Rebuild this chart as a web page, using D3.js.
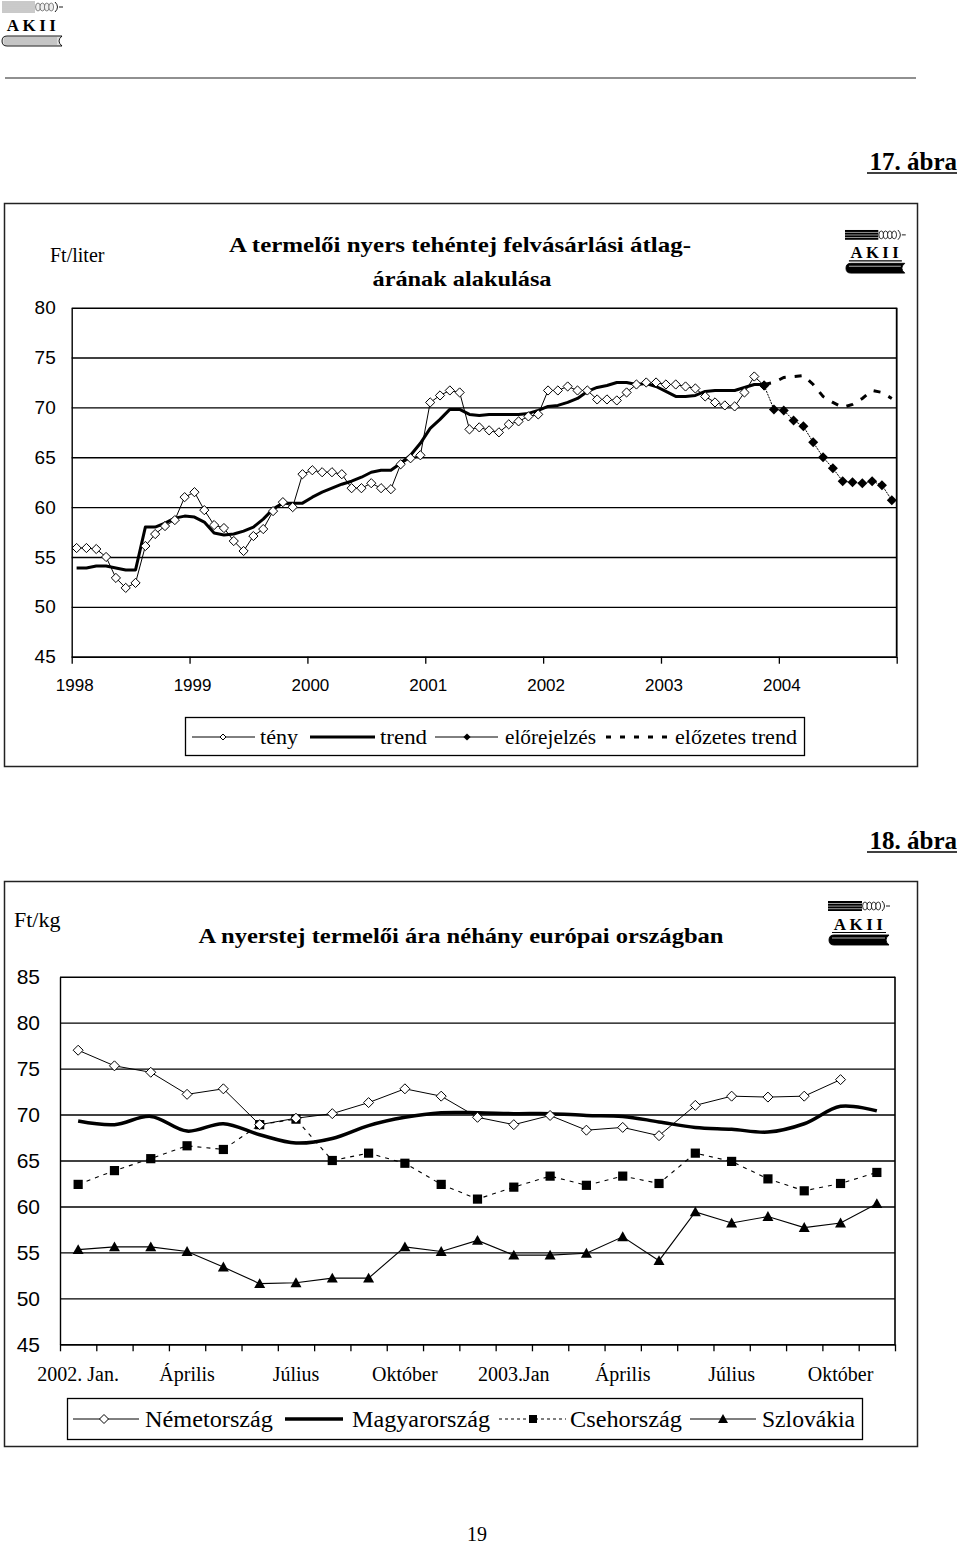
<!DOCTYPE html>
<html><head><meta charset="utf-8">
<script src="https://cdn.jsdelivr.net/npm/d3@7"></script>
<style>body{margin:0;background:#fff}</style>
</head><body>
<svg id="page" width="960" height="1544" xmlns="http://www.w3.org/2000/svg"></svg>
<script>
// ---------- Chart 1 data (monthly, Jan 1998 .. Dec 2004) ----------
const c1YTicks = [45, 50, 55, 60, 65, 70, 75, 80];
const c1YearLabels = ["1998", "1999", "2000", "2001", "2002", "2003", "2004"];
const c1MonthCount = 84;
const tenyValues = [55.9, 55.9, 55.8, 55.0, 52.9, 51.9, 52.4, 56.1, 57.3, 58.1, 58.7, 61.0,
  61.5, 59.7, 58.2, 57.9, 56.6, 55.6, 57.1, 57.8, 59.6, 60.5, 60.0, 63.3,
  63.7, 63.5, 63.5, 63.3, 61.9, 61.9, 62.4, 61.9, 61.8, 64.3, 64.9, 65.2,
  70.5, 71.2, 71.7, 71.5, 67.8, 68.0, 67.7, 67.5, 68.3, 68.6, 69.1, 69.3,
  71.7, 71.7, 72.1, 71.7, 71.7, 70.8, 70.8, 70.7, 71.5, 72.3, 72.5, 72.5,
  72.3, 72.3, 72.1, 71.9, 71.1, 70.5, 70.2, 70.1, 71.5, 73.1, 72.2];
const trendValues = [53.9, 53.9, 54.1, 54.1, 53.9, 53.7, 53.7, 58.0, 58.0, 58.4, 58.9, 59.1,
  59.0, 58.5, 57.4, 57.2, 57.3, 57.6, 58.0, 58.8, 59.8, 60.4, 60.4, 60.4,
  61.0, 61.5, 61.9, 62.3, 62.6, 63.0, 63.5, 63.7, 63.7, 64.4, 65.2, 66.4,
  67.9, 68.8, 69.8, 69.8, 69.3, 69.2, 69.3, 69.3, 69.3, 69.3, 69.4, 69.7,
  70.1, 70.2, 70.5, 70.9, 71.6, 72.0, 72.2, 72.5, 72.5, 72.3, 72.4, 72.1,
  71.6, 71.1, 71.1, 71.2, 71.6, 71.7, 71.7, 71.7, 72.0, 72.3, 72.3];
const forecastStart = 70;
const forecastValues = [72.2, 69.8, 69.7, 68.7, 68.1, 66.5, 65.0, 63.9, 62.6, 62.5, 62.4, 62.6, 62.2, 60.7];
const prelimTrendValues = [72.3, 72.5, 73.0, 73.1, 73.2, 72.3, 71.1, 70.5, 70.0, 70.3, 70.9, 71.7, 71.5, 70.9];

// ---------- Chart 2 data (monthly, Jan 2002 .. Nov 2003) ----------
const c2YTicks = [45, 50, 55, 60, 65, 70, 75, 80, 85];
const c2MonthLabels = ["2002. Jan.", "", "", "Április", "", "", "Július", "", "", "Október", "", "",
  "2003.Jan", "", "", "Április", "", "", "Július", "", "", "Október", ""];
const nemetValues = [77.0, 75.3, 74.6, 72.2, 72.8, 68.9, 69.6, 70.1, 71.3, 72.8, 72.0, 69.7,
  68.9, 69.9, 68.3, 68.6, 67.7, 71.0, 72.0, 71.9, 72.0, 73.8, null];
const magyarValues = [69.3, 68.9, 69.8, 68.2, 69.0, 67.8, 66.9, 67.4, 68.8, 69.7, 70.2, 70.2,
  70.1, 70.1, 69.9, 69.8, 69.2, 68.6, 68.4, 68.1, 69.0, 70.9, 70.4];
const csehValues = [62.4, 63.9, 65.2, 66.6, 66.2, 68.9, 69.5, 65.0, 65.8, 64.7, 62.4, 60.8,
  62.1, 63.3, 62.3, 63.3, 62.5, 65.8, 64.9, 63.0, 61.7, 62.5, 63.7];
const szlovakValues = [55.3, 55.6, 55.6, 55.1, 53.4, 51.6, 51.7, 52.2, 52.2, 55.6, 55.1, 56.3,
  54.7, 54.7, 54.9, 56.7, 54.1, 59.4, 58.2, 58.9, 57.7, 58.2, 60.3];

const SERIF = "'Liberation Serif','Times New Roman',serif";
const SANS = "'Liberation Sans',Arial,sans-serif";

const svg = d3.select("#page");
svg.append("rect").attr("width", 960).attr("height", 1544).attr("fill", "#fff");

// marker shapes
const diamondPath = r => `M0,${-r}L${r},0L0,${r}L${-r},0Z`;
const squarePath = r => `M${-r},${-r}H${r}V${r}H${-r}Z`;
const trianglePath = r => `M0,${-r}L${r},${r * 0.8}L${-r},${r * 0.8}Z`;

// ---------- logo ----------
function logo(g0, x, y, s, dark) {
  const g = g0.append("g").attr("transform", `translate(${x},${y}) scale(${s})`);
  const col = dark ? "#000" : "#888";
  if (dark) {
    g.append("rect").attr("x", 0).attr("y", 1).attr("width", 34).attr("height", 10).attr("fill", "#000");
    for (let k = 0; k < 3; k++) g.append("line").attr("x1", 0).attr("x2", 34).attr("y1", 3.5 + k * 2.6).attr("y2", 3.5 + k * 2.6).attr("stroke", "#fff").attr("stroke-width", 0.6);
  } else {
    for (let k = 0; k < 6; k++) g.append("line").attr("x1", 1).attr("x2", 34).attr("y1", 1 + k * 2).attr("y2", 1 + k * 2).attr("stroke", col).attr("stroke-width", 0.9);
  }
  for (let k = 0; k < 4; k++) g.append("ellipse").attr("cx", 37 + k * 4.4).attr("cy", 6).attr("rx", 2.4).attr("ry", 4)
    .attr("fill", dark ? "#fff" : "#eee").attr("stroke", dark ? "#000" : "#666").attr("stroke-width", 0.8);
  g.append("path").attr("d", "M54,1 Q59,6 54,11 M58,6 H62").attr("fill", "none").attr("stroke", "#000").attr("stroke-width", 0.9);
  g.append("text").attr("x", 32).attr("y", 30).attr("text-anchor", "middle").attr("font-family", SERIF)
    .attr("font-weight", "bold").attr("font-size", 17).attr("letter-spacing", 3.5).text("AKII");
  if (dark) g.append("line").attr("x1", 4).attr("x2", 58).attr("y1", 32.5).attr("y2", 32.5).attr("stroke", "#000").attr("stroke-width", 1.2);
  g.append("path").attr("d", "M6,35 H61 Q55,40 61,45 H6 Q1,45 1,40 Q1,35 6,35Z")
    .attr("fill", dark ? "#000" : "#ddd").attr("stroke", "#000").attr("stroke-width", 0.9);
  if (!dark) for (let k = 0; k < 4; k++) g.append("line").attr("x1", 3).attr("x2", 56).attr("y1", 37 + k * 2).attr("y2", 37 + k * 2).attr("stroke", "#999").attr("stroke-width", 0.7);
  else g.append("line").attr("x1", 4).attr("x2", 57).attr("y1", 38).attr("y2", 38).attr("stroke", "#fff").attr("stroke-width", 0.7);
}

// ---------- page header ----------
logo(svg, 1, 1, 1, false);
svg.append("line").attr("x1", 5).attr("x2", 916).attr("y1", 78).attr("y2", 78).attr("stroke", "#222").attr("stroke-width", 1.2);

function figLabel(txt, yBase) {
  svg.append("text").attr("x", 957).attr("y", yBase).attr("text-anchor", "end")
    .attr("font-family", SERIF).attr("font-weight", "bold").attr("font-size", 25).text(txt);
  svg.append("line").attr("x1", 867).attr("x2", 957).attr("y1", yBase + 3).attr("y2", yBase + 3).attr("stroke", "#000").attr("stroke-width", 1.6);
}
figLabel("17. ábra", 170);
figLabel("18. ábra", 849);
svg.append("text").attr("x", 477).attr("y", 1541).attr("text-anchor", "middle").attr("font-family", SERIF).attr("font-size", 20).text("19");

// ================= CHART 1 =================
{
  const g = svg.append("g");
  g.append("rect").attr("x", 4.5).attr("y", 203.5).attr("width", 913).attr("height", 563).attr("fill", "#fff").attr("stroke", "#222").attr("stroke-width", 1.5);
  const x = d3.scaleLinear().domain([0, c1MonthCount]).range([71.7, 896.7]);
  const y = d3.scaleLinear().domain([45, 80]).range([656.7, 307.7]);
  const W = x.range()[1] - x.range()[0];

  const ya = g.append("g").attr("transform", `translate(${x(0)},0)`)
    .call(d3.axisLeft(y).tickValues(c1YTicks).tickSize(-W).tickSizeOuter(0).tickPadding(16));
  ya.selectAll("line").attr("stroke", "#000").attr("stroke-width", 1.4);
  ya.select(".domain").attr("stroke", "#000").attr("stroke-width", 1.4);
  ya.selectAll("text").attr("font-family", SANS).attr("font-size", 19).attr("fill", "#000");
  g.append("line").attr("x1", x(c1MonthCount)).attr("x2", x(c1MonthCount)).attr("y1", y(80)).attr("y2", y(45)).attr("stroke", "#000").attr("stroke-width", 1.8);

  const xa = g.append("g").attr("transform", `translate(0,${y(45)})`)
    .call(d3.axisBottom(x).tickValues(d3.range(0, c1MonthCount + 1, 12)).tickSize(7).tickSizeOuter(0).tickFormat(""));
  xa.selectAll("line").attr("stroke", "#000").attr("stroke-width", 1.3);
  xa.select(".domain").attr("stroke", "#000").attr("stroke-width", 1.4);
  g.selectAll(".yearlab").data(c1YearLabels).enter().append("text")
    .attr("x", (d, i) => x(i * 12) + 3).attr("y", 691).attr("text-anchor", "middle")
    .attr("font-family", SANS).attr("font-size", 17).text(d => d);

  const line = (off) => d3.line().x((d, i) => x(off + i + 0.5)).y(d => y(d));
  // trend
  g.append("path").attr("d", line(0)(trendValues)).attr("fill", "none").attr("stroke", "#000").attr("stroke-width", 3).attr("stroke-linejoin", "round");
  // előzetes trend
  g.append("path").attr("d", line(forecastStart)(prelimTrendValues)).attr("fill", "none").attr("stroke", "#000").attr("stroke-width", 3).attr("stroke-dasharray", "7,9");
  // tény
  g.append("path").attr("d", line(0)(tenyValues)).attr("fill", "none").attr("stroke", "#000").attr("stroke-width", 1);
  g.selectAll(".teny").data(tenyValues).enter().append("path")
    .attr("transform", (d, i) => `translate(${x(i + 0.5)},${y(d)})`).attr("d", diamondPath(4.6))
    .attr("fill", "#fff").attr("stroke", "#000").attr("stroke-width", 1);
  // előrejelzés
  g.append("path").attr("d", line(forecastStart)(forecastValues)).attr("fill", "none").attr("stroke", "#000").attr("stroke-width", 1).attr("stroke-dasharray", "2,1");
  g.selectAll(".fc").data(forecastValues).enter().append("path")
    .attr("transform", (d, i) => `translate(${x(forecastStart + i + 0.5)},${y(d)})`).attr("d", diamondPath(5))
    .attr("fill", "#000");

  // texts
  g.append("text").attr("x", 50).attr("y", 262).attr("font-family", SERIF).attr("font-size", 20).text("Ft/liter");
  g.append("text").attr("x", 460).attr("y", 252).attr("text-anchor", "middle").attr("font-family", SERIF).attr("font-weight", "bold")
    .attr("font-size", 22).attr("textLength", 462).attr("lengthAdjust", "spacingAndGlyphs").text("A termelői nyers tehéntej felvásárlási átlag-");
  g.append("text").attr("x", 462).attr("y", 286).attr("text-anchor", "middle").attr("font-family", SERIF).attr("font-weight", "bold")
    .attr("font-size", 22).attr("textLength", 179).attr("lengthAdjust", "spacingAndGlyphs").text("árának alakulása");
  logo(g, 845, 229, 0.98, true);

  // legend
  const lg = g.append("g");
  lg.append("rect").attr("x", 185.5).attr("y", 717.5).attr("width", 619).attr("height", 38).attr("fill", "#fff").attr("stroke", "#000").attr("stroke-width", 1.3);
  const ly = 737;
  lg.append("line").attr("x1", 192).attr("x2", 255).attr("y1", ly).attr("y2", ly).attr("stroke", "#000").attr("stroke-width", 1);
  lg.append("path").attr("transform", `translate(223,${ly})`).attr("d", diamondPath(3)).attr("fill", "#fff").attr("stroke", "#000");
  lg.append("line").attr("x1", 310).attr("x2", 375).attr("y1", ly).attr("y2", ly).attr("stroke", "#000").attr("stroke-width", 3);
  lg.append("line").attr("x1", 435).attr("x2", 498).attr("y1", ly).attr("y2", ly).attr("stroke", "#000").attr("stroke-width", 1);
  lg.append("path").attr("transform", `translate(467,${ly})`).attr("d", diamondPath(3.6)).attr("fill", "#000");
  lg.append("line").attr("x1", 606).attr("x2", 672).attr("y1", ly).attr("y2", ly).attr("stroke", "#000").attr("stroke-width", 3).attr("stroke-dasharray", "5,9");
  const ltxt = [["tény", 260, 38], ["trend", 380, 47], ["előrejelzés", 505, 91], ["előzetes trend", 675, 122]];
  lg.selectAll(".lt").data(ltxt).enter().append("text").attr("x", d => d[1]).attr("y", ly + 7)
    .attr("font-family", SERIF).attr("font-size", 22).attr("textLength", d => d[2]).attr("lengthAdjust", "spacingAndGlyphs").text(d => d[0]);
}

// ================= CHART 2 =================
{
  const g = svg.append("g");
  g.append("rect").attr("x", 4.5).attr("y", 881.5).attr("width", 913).attr("height", 565).attr("fill", "#fff").attr("stroke", "#222").attr("stroke-width", 1.5);
  const n = c2MonthLabels.length;
  const x = d3.scaleLinear().domain([0, n]).range([60, 895]);
  const y = d3.scaleLinear().domain([45, 85]).range([1344.3, 976.7]);
  const W = x.range()[1] - x.range()[0];

  const ya = g.append("g").attr("transform", `translate(${x(0)},0)`)
    .call(d3.axisLeft(y).tickValues(c2YTicks).tickSize(-W).tickSizeOuter(0).tickPadding(20));
  ya.selectAll("line").attr("stroke", "#000").attr("stroke-width", 1.4);
  ya.select(".domain").attr("stroke", "#000").attr("stroke-width", 1.4);
  ya.selectAll("text").attr("font-family", SANS).attr("font-size", 21).attr("fill", "#000");
  g.append("line").attr("x1", x(n)).attr("x2", x(n)).attr("y1", y(85)).attr("y2", y(45)).attr("stroke", "#000").attr("stroke-width", 1.6);

  const xa = g.append("g").attr("transform", `translate(0,${y(45)})`)
    .call(d3.axisBottom(x).tickValues(d3.range(0, n + 1)).tickSize(7).tickSizeOuter(0).tickFormat(""));
  xa.selectAll("line").attr("stroke", "#000").attr("stroke-width", 1.3);
  xa.select(".domain").attr("stroke", "#000").attr("stroke-width", 1.4);
  g.selectAll(".mlab").data(c2MonthLabels.map((d, i) => [d, i]).filter(d => d[0] !== "")).enter().append("text")
    .attr("x", d => x(d[1] + 0.5)).attr("y", 1381).attr("text-anchor", "middle")
    .attr("font-family", SERIF).attr("font-size", 20).text(d => d[0]);

  const line = d3.line().defined(d => d != null).x((d, i) => x(i + 0.5)).y(d => y(d));
  const smooth = d3.line().x((d, i) => x(i + 0.5)).y(d => y(d)).curve(d3.curveCatmullRom.alpha(0.5));

  g.append("path").attr("d", line(csehValues)).attr("fill", "none").attr("stroke", "#000").attr("stroke-width", 1.1).attr("stroke-dasharray", "4,5");
  g.append("path").attr("d", smooth(magyarValues)).attr("fill", "none").attr("stroke", "#000").attr("stroke-width", 3.5);
  g.append("path").attr("d", line(nemetValues)).attr("fill", "none").attr("stroke", "#000").attr("stroke-width", 1);
  g.append("path").attr("d", line(szlovakValues)).attr("fill", "none").attr("stroke", "#000").attr("stroke-width", 1.1);

  g.selectAll(".sq").data(csehValues).enter().append("path")
    .attr("transform", (d, i) => `translate(${x(i + 0.5)},${y(d)})`).attr("d", squarePath(4.6)).attr("fill", "#000");
  g.selectAll(".tri").data(szlovakValues).enter().append("path")
    .attr("transform", (d, i) => `translate(${x(i + 0.5)},${y(d)})`).attr("d", trianglePath(5.5)).attr("fill", "#000");
  g.selectAll(".dia").data(nemetValues.map((d, i) => [d, i]).filter(d => d[0] != null)).enter().append("path")
    .attr("transform", d => `translate(${x(d[1] + 0.5)},${y(d[0])})`).attr("d", diamondPath(5))
    .attr("fill", "#fff").attr("stroke", "#000").attr("stroke-width", 1);

  g.append("text").attr("x", 14).attr("y", 927).attr("font-family", SERIF).attr("font-size", 22).text("Ft/kg");
  g.append("text").attr("x", 461).attr("y", 943).attr("text-anchor", "middle").attr("font-family", SERIF).attr("font-weight", "bold")
    .attr("font-size", 22).attr("textLength", 525).attr("lengthAdjust", "spacingAndGlyphs").text("A nyerstej termelői ára néhány európai országban");
  logo(g, 828, 900, 1.0, true);

  const lg = g.append("g");
  lg.append("rect").attr("x", 67.5).attr("y", 1398.5).attr("width", 795).attr("height", 41).attr("fill", "#fff").attr("stroke", "#000").attr("stroke-width", 1.3);
  const ly = 1419;
  lg.append("line").attr("x1", 73).attr("x2", 139).attr("y1", ly).attr("y2", ly).attr("stroke", "#000").attr("stroke-width", 1);
  lg.append("path").attr("transform", `translate(104,${ly})`).attr("d", diamondPath(4.5)).attr("fill", "#fff").attr("stroke", "#000");
  lg.append("line").attr("x1", 285).attr("x2", 343).attr("y1", ly).attr("y2", ly).attr("stroke", "#000").attr("stroke-width", 3.5);
  lg.append("line").attr("x1", 499).attr("x2", 566).attr("y1", ly).attr("y2", ly).attr("stroke", "#000").attr("stroke-width", 1.1).attr("stroke-dasharray", "3,3");
  lg.append("path").attr("transform", `translate(533,${ly})`).attr("d", squarePath(4)).attr("fill", "#000");
  lg.append("line").attr("x1", 690).attr("x2", 756).attr("y1", ly).attr("y2", ly).attr("stroke", "#000").attr("stroke-width", 1.1);
  lg.append("path").attr("transform", `translate(723,${ly})`).attr("d", trianglePath(5)).attr("fill", "#000");
  const ltxt = [["Németország", 145, 128], ["Magyarország", 352, 138], ["Csehország", 570, 112], ["Szlovákia", 762, 93]];
  lg.selectAll(".lt").data(ltxt).enter().append("text").attr("x", d => d[1]).attr("y", ly + 8)
    .attr("font-family", SERIF).attr("font-size", 24).attr("textLength", d => d[2]).attr("lengthAdjust", "spacingAndGlyphs").text(d => d[0]);
}
</script>
</body></html>
